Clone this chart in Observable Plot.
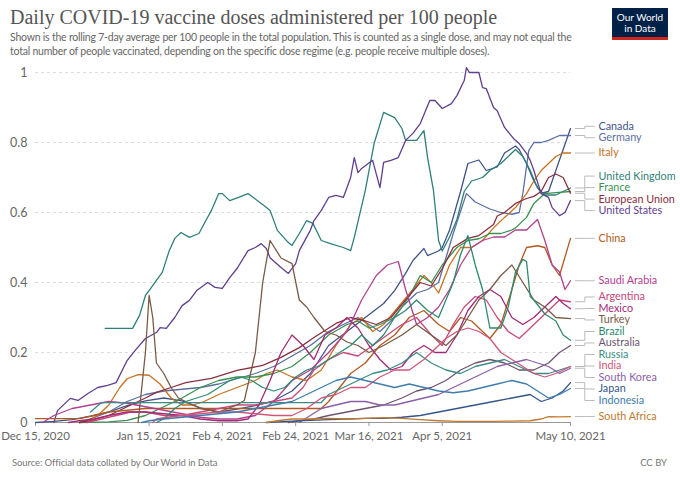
<!DOCTYPE html>
<html><head><meta charset="utf-8">
<script src="https://cdn.jsdelivr.net/npm/d3@7"></script>
<script src="https://cdn.jsdelivr.net/npm/@observablehq/plot@0.6"></script>
<style>
body{margin:0;background:#fff;font-family:Lato,"Noto Sans",sans-serif;}
#wrap{position:relative;width:680px;height:477px;overflow:hidden;background:#fff}
#title{position:absolute;left:10px;top:6px;font-family:"Liberation Serif",serif;font-size:20px;color:#555;white-space:nowrap}
#sub{position:absolute;left:10px;top:30px;width:576px;font-size:10.5px;letter-spacing:-0.22px;line-height:14px;color:#666}
#logo{position:absolute;left:612px;top:8px;width:56px;height:32px;background:#002147;color:#fff;font-size:10px;line-height:11px;text-align:center;box-sizing:border-box;padding-top:4px;border-bottom:3px solid #ce261e}
#chart{position:absolute;left:0;top:62px}
#src{position:absolute;left:12px;top:457px;font-size:9.5px;letter-spacing:-0.1px;color:#777}
#cc{position:absolute;right:13px;top:457px;font-size:9.5px;color:#777}
</style></head><body>
<div id="wrap">
<div id="title">Daily COVID-19 vaccine doses administered per 100 people</div>
<div id="sub">Shown is the rolling 7-day average per 100 people in the total population. This is counted as a single dose, and may not equal the total number of people vaccinated, depending on the specific dose regime (e.g. people receive multiple doses).</div>
<div id="logo">Our World<br>in Data</div>
<div id="chart"></div>
<div id="src">Source: Official data collated by Our World in Data</div>
<div id="cc">CC BY</div>
</div>
<script>
// Day offsets from Dec 15, 2020 and values (doses per 100 people, 7-day avg)
const startDate = "2020-12-15";
const endDate = "2021-05-10";
const yTicks = [0, 0.2, 0.4, 0.6, 0.8, 1];
const tickDates = ["2020-12-15","2021-01-15","2021-02-04","2021-02-24","2021-03-16","2021-04-05","2021-05-10"];

const canada = [[0,0],[5,0.003],[10,0.008],[15,0.018],[20,0.03],[25,0.048],[30,0.062],[35,0.07],[40,0.062],[45,0.042],[50,0.03],[55,0.038],[60,0.048],[65,0.062],[70,0.09],[75,0.14],[80,0.22],[85,0.26],[90,0.3],[95,0.34],[98,0.377],[101,0.426],[103,0.463],[106,0.497],[107,0.477],[110,0.49],[111,0.5],[113,0.55],[116,0.66],[118,0.74],[121,0.75],[123,0.72],[126,0.73],[128,0.77],[131,0.79],[132,0.78],[134,0.74],[136,0.69],[138,0.655],[140,0.66],[142,0.72],[146,0.84]];
const germany = [[12,0],[15,0.01],[20,0.03],[25,0.06],[30,0.08],[35,0.09],[40,0.095],[45,0.1],[50,0.11],[55,0.125],[60,0.14],[65,0.16],[70,0.19],[75,0.22],[80,0.26],[84,0.28],[88,0.3],[91,0.28],[94,0.26],[97,0.29],[100,0.33],[104,0.37],[107,0.38],[110,0.4],[112,0.47],[114,0.54],[117.6,0.654],[120,0.63],[124,0.61],[127,0.6],[130,0.595],[132,0.6],[133,0.655],[134.6,0.777],[136,0.8],[138,0.8],[140,0.806],[143,0.82],[146,0.82]];
const italy = [[12,0],[14,0.005],[17,0.02],[20,0.05],[23,0.1],[25,0.125],[28,0.137],[31,0.135],[34,0.11],[37,0.07],[40,0.05],[43,0.05],[46,0.06],[50,0.08],[55,0.1],[60,0.12],[63,0.14],[66,0.15],[70,0.13],[74,0.12],[78,0.15],[82,0.22],[86,0.28],[89,0.3],[92,0.26],[95,0.28],[99,0.33],[103,0.38],[106,0.42],[108,0.4],[110,0.37],[113,0.45],[116,0.5],[119,0.5],[122,0.52],[125,0.556],[128,0.586],[131,0.614],[134,0.654],[136,0.69],[138,0.72],[140,0.74],[142,0.76],[144,0.77],[146,0.77]];
const unitedKingdom = [[19,0.269],[26.5,0.269],[28.4,0.306],[30,0.363],[31,0.377],[33,0.406],[34.6,0.429],[36.5,0.491],[38,0.526],[39.7,0.543],[42,0.529],[44.6,0.54],[46.5,0.577],[48,0.606],[50,0.654],[51,0.654],[53,0.634],[55.4,0.643],[58,0.654],[61.6,0.626],[62.7,0.617],[64,0.606],[66,0.549],[69,0.514],[70,0.506],[72,0.54],[74,0.577],[75.7,0.569],[78,0.52],[80.5,0.511],[84,0.5],[86,0.491],[87,0.529],[90,0.663],[92.4,0.797],[95,0.886],[98,0.871],[100,0.84],[101,0.806],[104,0.806],[106,0.834],[107,0.757],[108.6,0.663],[110,0.52],[111,0.49],[113,0.53],[115,0.58],[117,0.66],[119,0.69],[122,0.7],[124,0.72],[127,0.74],[130,0.77],[131,0.78],[133,0.76],[135,0.72],[137,0.67],[139,0.65],[142,0.65],[144,0.66],[146,0.67]];
const france = [[12,0],[20,0.002],[25,0.006],[30,0.02],[35,0.045],[40,0.07],[45,0.1],[50,0.12],[55,0.13],[60,0.13],[65,0.14],[70,0.16],[75,0.2],[80,0.25],[85,0.28],[88,0.29],[91,0.27],[94,0.28],[98,0.3],[102,0.36],[105,0.42],[108,0.4],[111,0.45],[115,0.5],[118,0.52],[121,0.525],[124,0.54],[127,0.54],[130,0.55],[131,0.556],[134,0.586],[136,0.626],[139,0.654],[142,0.657],[146,0.66]];
const europeanUnion = [[12,0],[15,0.005],[20,0.02],[25,0.045],[30,0.07],[33,0.086],[37,0.1],[41,0.114],[48,0.126],[55,0.149],[62,0.163],[67,0.186],[72,0.214],[76,0.243],[82,0.283],[86,0.3],[90,0.29],[93,0.28],[97,0.3],[101,0.35],[105,0.4],[108,0.39],[111,0.44],[114,0.5],[118,0.526],[121,0.534],[123,0.55],[125,0.566],[126,0.59],[128,0.6],[131,0.626],[134,0.64],[136,0.646],[138,0.66],[140,0.7],[142,0.71],[144,0.7],[146,0.655]];
const unitedStates = [[5,0],[6,0.034],[9.5,0.069],[11.6,0.063],[14.3,0.083],[17,0.1],[19.7,0.106],[22,0.114],[25,0.177],[27.6,0.211],[30,0.24],[33,0.257],[34,0.271],[35.7,0.269],[38,0.3],[40,0.334],[42,0.349],[44,0.377],[47,0.4],[49,0.386],[51,0.383],[53,0.414],[55,0.44],[58,0.491],[60,0.5],[61.6,0.511],[63,0.497],[64,0.471],[67,0.443],[69,0.426],[71,0.454],[72,0.491],[75,0.549],[76,0.577],[78,0.606],[80,0.643],[82,0.649],[84,0.643],[85,0.671],[86,0.7],[87,0.757],[88,0.714],[89,0.726],[92,0.749],[94,0.671],[95,0.743],[97,0.749],[99,0.757],[101,0.806],[103,0.826],[105,0.854],[107.6,0.92],[109,0.92],[111,0.897],[113.5,0.911],[115,0.934],[117,0.977],[117.6,1.014],[118.4,1.0],[121,1.0],[122,0.957],[123,0.954],[125,0.9],[126,0.891],[128,0.843],[130.5,0.811],[132,0.797],[134,0.769],[135,0.749],[136,0.72],[138,0.654],[140,0.643],[141,0.614],[143,0.591],[144.5,0.6],[146,0.634]];
const china = [[0,0.011],[12,0.011],[16,0.02],[20,0.03],[25,0.035],[30,0.04],[78,0.04],[80,0.06],[83,0.1],[86,0.14],[90,0.17],[94,0.22],[98,0.25],[102,0.3],[106,0.32],[110,0.28],[113,0.26],[116,0.3],[119,0.29],[122,0.26],[124,0.24],[127,0.28],[130,0.38],[132,0.45],[134,0.5],[137,0.505],[139,0.5],[141,0.45],[143,0.42],[146,0.526]];
const saudiArabia = [[2,0],[5,0.02],[10,0.04],[15,0.05],[20,0.06],[25,0.055],[30,0.045],[35,0.035],[40,0.025],[45,0.015],[50,0.01],[55,0.01],[60,0.02],[65,0.06],[70,0.12],[75,0.15],[80,0.2],[85,0.26],[89,0.35],[93,0.42],[96,0.45],[99,0.46],[101,0.38],[104,0.28],[107,0.3],[110,0.33],[113,0.38],[116,0.45],[119,0.5],[122,0.52],[125,0.53],[128,0.53],[131,0.55],[134,0.55],[137,0.58],[139,0.52],[141,0.45],[143,0.43],[144.5,0.38],[146,0.405]];
const argentina = [[14,0],[18,0.01],[22,0.02],[26,0.03],[30,0.03],[35,0.02],[40,0.02],[45,0.03],[50,0.04],[55,0.05],[60,0.05],[65,0.06],[70,0.07],[73,0.1],[76,0.15],[80,0.18],[84,0.2],[88,0.19],[92,0.22],[96,0.25],[100,0.28],[104,0.3],[108,0.25],[111,0.22],[114,0.28],[117,0.33],[120,0.36],[123,0.35],[126,0.3],[129,0.26],[132,0.24],[135,0.27],[138,0.3],[141,0.33],[143,0.35],[146,0.345]];
const mexico = [[9,0],[12,0.005],[16,0.01],[20,0.02],[25,0.03],[30,0.03],[35,0.025],[40,0.02],[45,0.01],[50,0.005],[55,0.005],[58,0.01],[61,0.05],[64,0.12],[67,0.2],[70,0.25],[73,0.22],[76,0.18],[79,0.25],[82,0.27],[85,0.3],[88,0.27],[91,0.22],[94,0.18],[97,0.15],[100,0.16],[103,0.2],[106,0.22],[109,0.2],[112,0.2],[115,0.25],[118,0.32],[121,0.36],[124,0.38],[127,0.36],[130,0.3],[133,0.28],[136,0.3],[139,0.33],[142,0.36],[144,0.34],[146,0.325]];
const turkey = [[28,0],[30,0.2],[31,0.363],[32,0.3],[33,0.17],[35,0.14],[37,0.1],[39,0.07],[41,0.06],[45,0.04],[50,0.03],[55,0.05],[57,0.063],[60,0.2],[62,0.4],[64,0.52],[67,0.47],[70,0.454],[72,0.35],[74,0.33],[76,0.3],[79,0.26],[82,0.25],[85,0.23],[88,0.22],[91,0.2],[95,0.22],[100,0.25],[104,0.28],[108,0.25],[112,0.22],[115,0.25],[118,0.3],[121,0.35],[124,0.38],[127,0.42],[130,0.45],[133,0.4],[136,0.35],[139,0.33],[142,0.3],[146,0.297]];
const brazil = [[33,0],[35,0.01],[38,0.04],[41,0.06],[44,0.07],[47,0.08],[50,0.1],[53,0.12],[56,0.13],[59,0.12],[62,0.1],[65,0.09],[68,0.1],[71,0.13],[74,0.15],[77,0.16],[80,0.18],[83,0.2],[86,0.22],[89,0.25],[92,0.22],[95,0.25],[98,0.3],[101,0.32],[104,0.35],[107,0.32],[110,0.3],[112,0.35],[114,0.4],[116,0.48],[118,0.534],[120,0.45],[122,0.38],[124,0.27],[127,0.27],[129,0.33],[131,0.43],[133,0.466],[134,0.46],[135,0.36],[136,0.35],[139,0.31],[142,0.29],[144,0.25],[146,0.235]];
const australia = [[69,0],[72,0.005],[76,0.01],[80,0.02],[85,0.03],[90,0.04],[95,0.05],[100,0.07],[104,0.09],[108,0.1],[112,0.12],[116,0.15],[120,0.17],[124,0.18],[128,0.17],[132,0.15],[136,0.15],[140,0.17],[143,0.2],[146,0.22]];
const russia = [[15,0.03],[18,0.057],[78,0.057],[80,0.08],[84,0.1],[88,0.12],[92,0.14],[96,0.15],[100,0.17],[104,0.2],[108,0.17],[112,0.15],[116,0.14],[120,0.16],[124,0.17],[128,0.18],[132,0.16],[136,0.14],[140,0.14],[143,0.15],[146,0.16]];
const india = [[32,0],[33,0.01],[36,0.015],[40,0.02],[45,0.025],[50,0.03],[55,0.03],[60,0.025],[65,0.02],[70,0.02],[74,0.04],[78,0.07],[82,0.08],[86,0.1],[90,0.1],[94,0.13],[98,0.15],[102,0.15],[106,0.18],[109,0.21],[112,0.24],[115,0.26],[118,0.27],[121,0.26],[124,0.24],[127,0.2],[130,0.18],[133,0.16],[136,0.14],[139,0.13],[142,0.14],[146,0.16]];
const southKorea = [[72,0],[75,0.02],[78,0.04],[82,0.05],[86,0.06],[90,0.06],[94,0.05],[98,0.05],[102,0.06],[106,0.07],[110,0.08],[114,0.1],[118,0.12],[122,0.14],[126,0.16],[130,0.17],[134,0.18],[137,0.17],[140,0.16],[143,0.14],[146,0.155]];
const japan = [[63,0],[66,0.002],[70,0.004],[75,0.006],[80,0.008],[85,0.01],[90,0.012],[95,0.012],[100,0.015],[105,0.02],[110,0.03],[115,0.04],[120,0.05],[125,0.06],[130,0.07],[135,0.08],[138,0.06],[141,0.07],[144,0.09],[146,0.114]];
const indonesia = [[29,0],[31,0.005],[35,0.01],[40,0.015],[45,0.02],[50,0.025],[55,0.03],[60,0.04],[65,0.05],[70,0.06],[74,0.08],[78,0.1],[82,0.12],[86,0.13],[90,0.12],[94,0.11],[98,0.1],[102,0.11],[106,0.1],[110,0.09],[114,0.085],[118,0.09],[122,0.1],[126,0.11],[130,0.12],[134,0.11],[137,0.09],[140,0.07],[143,0.08],[146,0.097]];
const southAfrica = [[63,0],[66,0.005],[70,0.01],[75,0.01],[80,0.012],[85,0.01],[90,0.012],[95,0.014],[100,0.012],[105,0.008],[110,0.005],[115,0.003],[120,0.003],[125,0.003],[130,0.004],[135,0.005],[138,0.01],[140,0.017],[143,0.016],[146,0.017]];

const countries = ["Canada","Germany","Italy","United Kingdom","France","European Union","United States","China","Saudi Arabia","Argentina","Mexico","Turkey","Brazil","Australia","Russia","India","South Korea","Japan","Indonesia","South Africa"];
const seriesData = [canada,germany,italy,unitedKingdom,france,europeanUnion,unitedStates,china,saudiArabia,argentina,mexico,turkey,brazil,australia,russia,india,southKorea,japan,indonesia,southAfrica];
const colors = ["#3f5488","#5b6fa3","#c8711f","#2f7f78","#3a9150","#8a2f3f","#5f3f8f","#b05a22","#b2408f","#c9487a","#a02a76","#7a5a45","#2e8a6e","#6e5470","#3b8c84","#d0567a","#8c60a8","#34558a","#3d7cad","#c47a2e"];

const t0 = new Date(startDate + "T00:00:00Z");
const t1 = new Date(endDate + "T00:00:00Z");
const dayToDate = d => new Date(t0.getTime() + d * 864e5);

const W = 680, H = 385, mt = 10, mb = 25, ml = 35, mr = 110;
const yPix = d3.scaleLinear([0, 1], [H - mb, mt]);

// label layout: de-overlap labels at the right
const gap = 11.5;
const items = countries.map((c, i) => {
  const last = seriesData[i][seriesData[i].length - 1];
  return {country: c, color: colors[i], endDay: last[0], value: last[1], py: yPix(last[1])};
}).sort((a, b) => a.py - b.py);
let groups = items.map(d => ({items: [d], top: d.py}));
const place = g => { g.top = d3.mean(g.items, d => d.py) - (g.items.length - 1) * gap / 2; };
let merged = true;
while (merged) {
  merged = false;
  for (let i = 0; i < groups.length - 1; i++) {
    const a = groups[i], b = groups[i + 1];
    if (b.top - (a.top + (a.items.length - 1) * gap) < gap) {
      const g = {items: a.items.concat(b.items)}; place(g);
      groups.splice(i, 2, g); merged = true; break;
    }
  }
}
const labels = [];
groups.forEach(g => g.items.forEach((d, k) => labels.push({...d, labelValue: yPix.invert(g.top + k * gap)})));

const marks = [
  Plot.gridY(yTicks.filter(v => v > 0), {stroke: "#dcdcdc", strokeOpacity: 1, strokeDasharray: "3,3"}),
  Plot.ruleY([0], {stroke: "#999"}),
  Plot.axisY(yTicks, {tickSize: 0, tickPadding: 8, tickFormat: d => String(d), fill: "#666", fontSize: 12.5}),
  Plot.axisX(tickDates.map(s => new Date(s + "T00:00:00Z")), {tickSize: 4, stroke: "#999", tickPadding: 5, tickFormat: d3.utcFormat("%b %-d, %Y"), fill: "#666", fontSize: 11.5})
];
countries.forEach((c, i) => {
  marks.push(Plot.line(seriesData[i].map(([d, v]) => ({date: dayToDate(d), value: v})), {x: "date", y: "value", stroke: colors[i], strokeWidth: 1.3}));
});
marks.push(Plot.link(labels, {
  x1: d => dayToDate(d.endDay + 1.2), x2: d => dayToDate(d.endDay + 6.6),
  y1: "value", y2: "labelValue", curve: "step", stroke: "#bbb", strokeWidth: 1
}));
marks.push(Plot.text(labels, {
  x: d => dayToDate(d.endDay), y: "labelValue", text: "country", fill: "color",
  dx: 28, textAnchor: "start", fontSize: 10.8
}));

const chart = Plot.plot({
  width: W, height: H, marginLeft: ml, marginRight: mr, marginTop: mt, marginBottom: mb,
  style: {fontFamily: "Lato, sans-serif", fontSize: "12px", color: "#666", background: "transparent", overflow: "visible"},
  x: {type: "utc", domain: [t0, t1]},
  y: {domain: [0, 1]},
  color: {type: "identity"},
  marks
});
document.getElementById("chart").appendChild(chart);
</script>
</body></html>
